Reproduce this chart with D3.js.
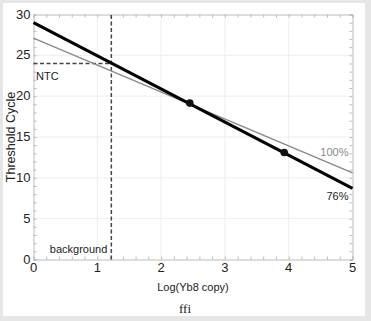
<!DOCTYPE html>
<html>
<head>
<meta charset="utf-8">
<script src="https://cdn.jsdelivr.net/npm/d3@7"></script>
<style>
  body { margin: 0; background: #e6e6e6; }
  svg { display: block; }
  .lbl { font-family: "Liberation Sans Narrow", "Arial Narrow", "Liberation Sans", sans-serif; fill: #222; }
</style>
</head>
<body>
<script>
// fitted lines: [log copy, threshold cycle] at both ends
var line76 = [[0, 29.0], [5, 8.7]]
var line100 = [[0, 27.1], [5, 10.6]]
var points = [[2.45, 19.15], [3.93, 13.1]]
var background = 1.22
var ntc = 24
var xTicks = [0, 1, 2, 3, 4, 5]
var yTicks = [0, 5, 10, 15, 20, 25, 30]
var xMinor = d3.range(0, 5.01, 0.2)
var yMinor = d3.range(0, 30.01, 1)

var totalWidth = 371, totalHeight = 321
var margin = {top: 14.5, right: 18.5, bottom: 61.5, left: 33.5}
var width = totalWidth - margin.left - margin.right
var height = totalHeight - margin.top - margin.bottom

var root = d3.select('body').append('svg')
    .attr('width', totalWidth)
    .attr('height', totalHeight)

root.append('rect')
    .attr('x', 3).attr('y', 3)
    .attr('width', 362).attr('height', 313)
    .attr('fill', '#fff')

var svg = root.append('g')
    .attr('transform', 'translate(' + margin.left + ',' + margin.top + ')')

var x = d3.scaleLinear().domain([0, 5]).range([0, width])
var y = d3.scaleLinear().domain([0, 30]).range([height, 0])

// grid
svg.selectAll('.gx').data(xTicks.slice(1, -1)).enter().append('line')
    .attr('x1', x).attr('x2', x).attr('y1', 0).attr('y2', height)
    .attr('stroke', '#eee')
svg.selectAll('.gy').data(yTicks.slice(1, -1)).enter().append('line')
    .attr('y1', y).attr('y2', y).attr('x1', 0).attr('x2', width)
    .attr('stroke', '#eee')

// frame with inward ticks on all four sides
function frameAxis(axis, tr){
  svg.append('g')
      .attr('transform', tr)
      .call(axis)
      .call(function(g){
        g.select('.domain').attr('stroke', '#bbb')
        g.selectAll('.tick line').attr('stroke', '#bbb')
        g.selectAll('text').remove()
      })
}
frameAxis(d3.axisBottom(x).tickValues(xMinor).tickSize(-3), 'translate(0,' + height + ')')
frameAxis(d3.axisTop(x).tickValues(xMinor).tickSize(-3), 'translate(0,0)')
frameAxis(d3.axisLeft(y).tickValues(yMinor).tickSize(-3), 'translate(0,0)')
frameAxis(d3.axisRight(y).tickValues(yMinor).tickSize(-3), 'translate(' + width + ',0)')

// tick labels
svg.selectAll('.xl').data(xTicks).enter().append('text')
    .attr('class', 'lbl')
    .attr('x', x).attr('y', height + 12)
    .attr('text-anchor', 'middle')
    .style('font-size', '13px')
    .text(function(d){ return d })
svg.selectAll('.yl').data(yTicks).enter().append('text')
    .attr('class', 'lbl')
    .attr('x', -3).attr('y', function(d){ return y(d) + 4 })
    .attr('text-anchor', 'end')
    .style('font-size', '13px')
    .text(function(d){ return d })

// dashed guides
svg.append('line')
    .attr('x1', x(background)).attr('x2', x(background))
    .attr('y1', y(0)).attr('y2', y(30))
    .attr('stroke', '#444').attr('stroke-width', 1.5).attr('stroke-dasharray', '4,2.5')
svg.append('line')
    .attr('x1', x(0)).attr('x2', x(background))
    .attr('y1', y(ntc)).attr('y2', y(ntc))
    .attr('stroke', '#444').attr('stroke-width', 1.5).attr('stroke-dasharray', '4,2.5')

var line = d3.line().x(function(d){ return x(d[0]) }).y(function(d){ return y(d[1]) })

svg.append('path').datum(line100)
    .attr('d', line).attr('fill', 'none')
    .attr('stroke', '#8a8a8a').attr('stroke-width', 1.5)
svg.append('path').datum(line76)
    .attr('d', line).attr('fill', 'none')
    .attr('stroke', '#000').attr('stroke-width', 3)

svg.selectAll('.pt').data(points).enter().append('circle')
    .attr('cx', function(d){ return x(d[0]) })
    .attr('cy', function(d){ return y(d[1]) })
    .attr('r', 3.8)
    .attr('fill', '#111')

// annotations
svg.append('text').attr('class', 'lbl')
    .attr('x', 2.5).attr('y', y(ntc) + 16)
    .style('font-size', '11px')
    .text('NTC')
svg.append('text').attr('class', 'lbl')
    .attr('x', x(background) - 4).attr('y', height - 7)
    .attr('text-anchor', 'end')
    .style('font-size', '11px')
    .text('background')
svg.append('text').attr('class', 'lbl')
    .attr('x', width - 4).attr('y', y(12.7))
    .attr('text-anchor', 'end')
    .style('font-size', '11px')
    .style('fill', '#888')
    .text('100%')
svg.append('text').attr('class', 'lbl')
    .attr('x', width - 4).attr('y', y(7.3))
    .attr('text-anchor', 'end')
    .style('font-size', '11px')
    .text('76%')

// axis titles
svg.append('text').attr('class', 'lbl')
    .attr('x', width / 2).attr('y', height + 31)
    .attr('text-anchor', 'middle')
    .style('font-size', '11px')
    .text('Log(Yb8 copy)')
root.append('text').attr('class', 'lbl')
    .attr('transform', 'translate(15,' + (margin.top + height / 2) + ') rotate(-90)')
    .attr('text-anchor', 'middle')
    .style('font-size', '12.5px')
    .text('Threshold Cycle')
root.append('text')
    .attr('x', 185).attr('y', 313)
    .attr('text-anchor', 'middle')
    .style('font-family', '"Liberation Serif", serif')
    .style('font-size', '13px')
    .style('fill', '#222')
    .text('ffi')
</script>
</body>
</html>
